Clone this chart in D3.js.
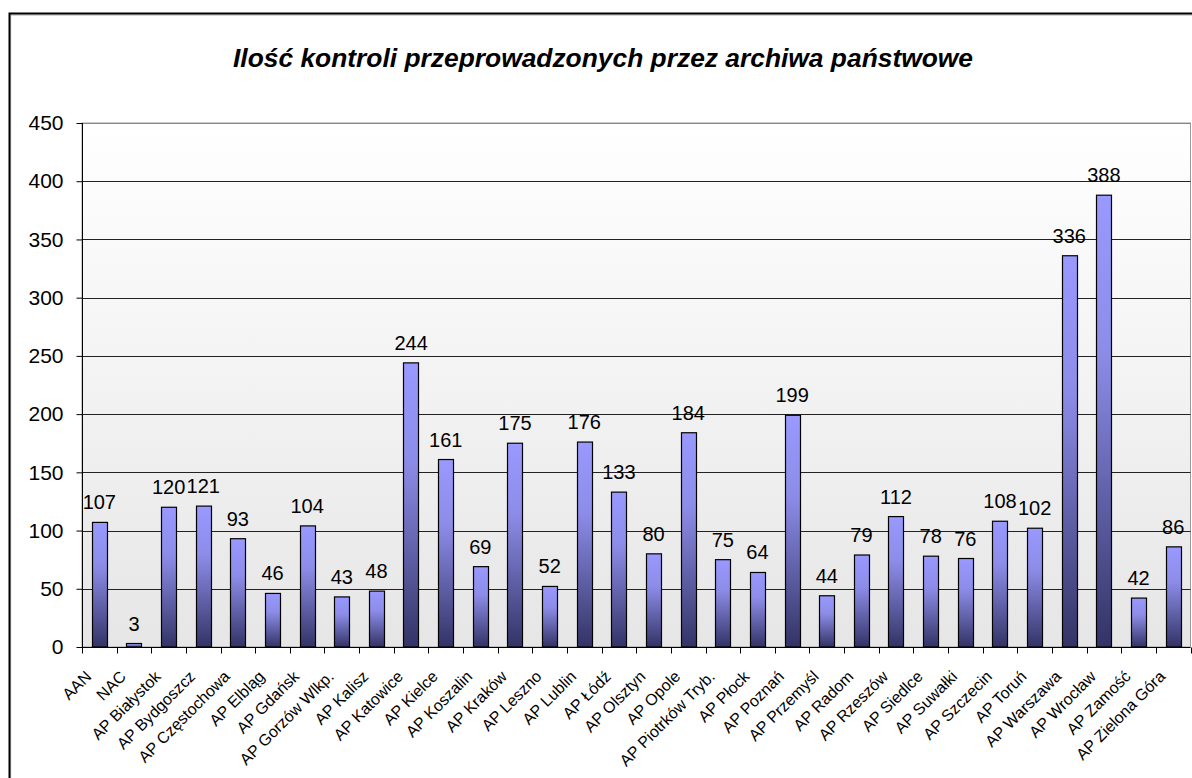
<!DOCTYPE html>
<html><head><meta charset="utf-8">
<script src="https://cdn.jsdelivr.net/npm/d3@7"></script>
<style>body{margin:0;background:#fff}svg{display:block}</style>
</head><body>
<script>
const categories = ["AAN","NAC","AP Białystok","AP Bydgoszcz","AP Częstochowa","AP Elbląg","AP Gdańsk","AP Gorzów Wlkp.","AP Kalisz","AP Katowice","AP Kielce","AP Koszalin","AP Kraków","AP Leszno","AP Lublin","AP Łódź","AP Olsztyn","AP Opole","AP Piotrków Tryb.","AP Płock","AP Poznań","AP Przemyśl","AP Radom","AP Rzeszów","AP Siedlce","AP Suwałki","AP Szczecin","AP Toruń","AP Warszawa","AP Wrocław","AP Zamość","AP Zielona Góra"];
const values = [107,3,120,121,93,46,104,43,48,244,161,69,175,52,176,133,80,184,75,64,199,44,79,112,78,76,108,102,336,388,42,86];
const yTicks = [0,50,100,150,200,250,300,350,400,450];
const title = "Ilość kontroli przeprowadzonych przez archiwa państwowe";

const W = 1192, H = 778;
const FONT = "Liberation Sans, Arial, sans-serif";
const svg = d3.select("body").append("svg").attr("width", W).attr("height", H);
const defs = svg.append("defs");
const bg = defs.append("linearGradient").attr("id","bg").attr("x1",0).attr("y1",0).attr("x2",0).attr("y2",1);
bg.append("stop").attr("offset","0%").attr("stop-color","#ffffff");
bg.append("stop").attr("offset","100%").attr("stop-color","#e6e6e6");
const bar = defs.append("linearGradient").attr("id","bar").attr("x1",0).attr("y1",0).attr("x2",0).attr("y2",1);
bar.append("stop").attr("offset","0%").attr("stop-color","#9999ff");
bar.append("stop").attr("offset","35%").attr("stop-color","#8c8ce8");
bar.append("stop").attr("offset","100%").attr("stop-color","#333366");

// outer frame
svg.append("rect").attr("x",10.5).attr("y",15).attr("width",W+20).attr("height",H+20)
  .attr("fill","none").attr("stroke","#c8c8c8").attr("stroke-width",1.5);
svg.append("rect").attr("x",9.5).attr("y",13.5).attr("width",W+20).attr("height",H+20)
  .attr("fill","none").attr("stroke","#000").attr("stroke-width",2);

svg.append("text").attr("x",603).attr("y",67).attr("text-anchor","middle")
  .attr("font-family",FONT).attr("font-size",25)
  .attr("font-weight","bold").attr("font-style","italic")
  .attr("textLength",740).attr("lengthAdjust","spacingAndGlyphs").text(title);

const L = 82, R = 1190.5, T = 123, B = 647;
const x = d3.scaleBand().domain(categories).range([L, R]).paddingInner(0.56).paddingOuter(0.28);
const xt = d3.scaleBand().domain(categories).range([L, R]);
const y = d3.scaleLinear().domain([0,450]).range([B, T]);

svg.append("rect").attr("x",L).attr("y",T).attr("width",R-L).attr("height",B-T)
  .attr("fill","url(#bg)").attr("stroke","#999").attr("stroke-width",1);

svg.append("g").selectAll("line").data(yTicks.filter(d=>d>0)).join("line")
  .attr("x1",L).attr("x2",R).attr("y1",d=>Math.round(y(d))+0.5).attr("y2",d=>Math.round(y(d))+0.5)
  .attr("stroke",d=>d===450?"#888":"#222").attr("stroke-width",1);

svg.append("g").selectAll("rect").data(values).join("rect")
  .attr("x",(d,i)=>Math.round(x(categories[i]))+0.5).attr("width",Math.round(x.bandwidth()))
  .attr("y",d=>y(d)).attr("height",d=>B-y(d))
  .attr("fill","url(#bar)").attr("stroke","#000").attr("stroke-width",1.2);

svg.append("g").selectAll("text").data(values).join("text")
  .attr("x",(d,i)=>x(categories[i])+x.bandwidth()/2).attr("y",d=>y(d)-13)
  .attr("text-anchor","middle").attr("font-family",FONT)
  .attr("font-size",20).text(d=>d);

// y axis
const ya = svg.append("g").attr("transform",`translate(${L+0.5},0)`)
  .call(d3.axisLeft(y).tickValues(yTicks).tickSize(6).tickPadding(13));
ya.attr("font-size",21).attr("font-family",FONT);
ya.select(".domain").attr("stroke","#000").attr("d",`M0,${T}V${B}`);
ya.selectAll(".tick line").attr("stroke","#000");
ya.selectAll("text").attr("font-family",FONT).style("font-size","21px").attr("fill","#000");

// x axis
const xa = svg.append("g").attr("transform",`translate(0,${B+0.5})`);
xa.append("line").attr("x1",L).attr("x2",R).attr("stroke","#000");
xa.selectAll("line.t").data(d3.range(categories.length+1)).join("line").attr("class","t")
  .attr("x1",i=>Math.round(L+i*xt.step())+0.5).attr("x2",i=>Math.round(L+i*xt.step())+0.5)
  .attr("y1",0).attr("y2",6).attr("stroke","#000");
xa.selectAll("text").data(categories).join("text")
  .attr("transform",d=>`translate(${xt(d)+xt.bandwidth()/2-7},${30}) rotate(-45)`)
  .attr("text-anchor","end").attr("font-family",FONT)
  .attr("font-size",16).text(d=>d);
</script>
</body></html>
